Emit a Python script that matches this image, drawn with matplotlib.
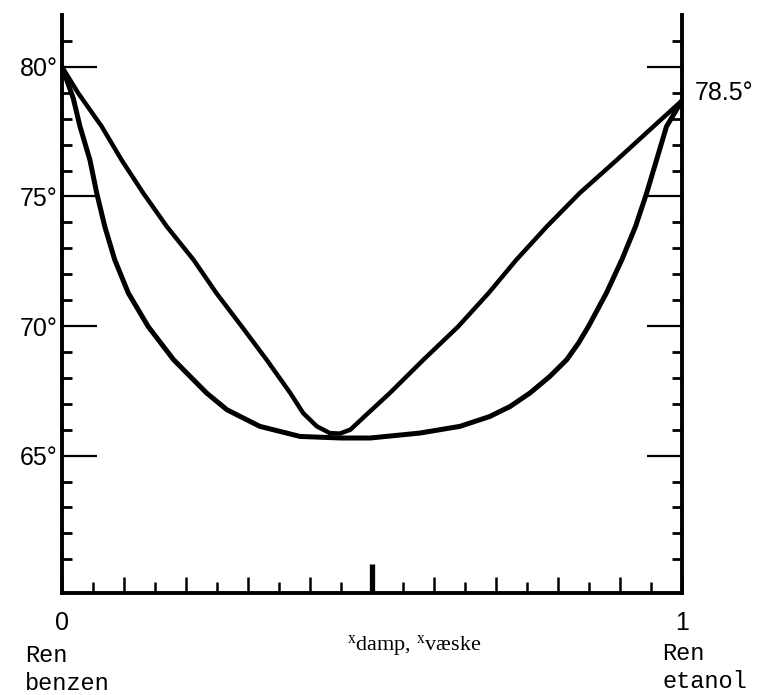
import matplotlib
matplotlib.use("Agg")
import matplotlib.pyplot as plt

# Liquid curve (kokepunktskurve)
x_liquid = [0.0, 0.018, 0.029, 0.045, 0.056, 0.069, 0.085, 0.107, 0.139, 0.180,
            0.233, 0.266, 0.319, 0.384, 0.45, 0.497, 0.577, 0.642, 0.690, 0.723,
            0.755, 0.787, 0.814, 0.833, 0.849, 0.878, 0.903, 0.925, 0.943, 0.959,
            0.975, 1.0]
t_liquid = [80.0, 78.8, 77.7, 76.41, 75.13, 73.84, 72.56, 71.27, 69.98, 68.70,
            67.42, 66.77, 66.13, 65.74, 65.68, 65.68, 65.87, 66.13, 66.51, 66.90,
            67.42, 68.06, 68.70, 69.34, 69.98, 71.27, 72.56, 73.84, 75.13, 76.41,
            77.70, 78.7]

# Vapour curve (duggpunktskurve)
x_vapor = [0.0, 0.026, 0.064, 0.096, 0.131, 0.169, 0.212, 0.249, 0.290, 0.330,
           0.368, 0.389, 0.411, 0.432, 0.448, 0.465, 0.491, 0.529, 0.583, 0.639,
           0.688, 0.733, 0.782, 0.835, 0.895, 0.954, 1.0]
t_vapor = [80.0, 78.99, 77.70, 76.41, 75.13, 73.84, 72.56, 71.27, 69.98, 68.70,
           67.42, 66.64, 66.13, 65.87, 65.85, 66.0, 66.58, 67.42, 68.70, 69.98,
           71.27, 72.56, 73.84, 75.13, 76.41, 77.70, 78.7]

y_major = [65, 70, 75, 80]
y_major_labels = ["65°", "70°", "75°", "80°"]
y_minor = [61, 62, 63, 64, 66, 67, 68, 69, 71, 72, 73, 74, 76, 77, 78, 79, 81]
x_major = [0.0, 0.1, 0.2, 0.3, 0.4, 0.5, 0.6, 0.7, 0.8, 0.9, 1.0]
x_major_labels = ["0", "", "", "", "", "", "", "", "", "", "1"]
x_minor = [0.05, 0.15, 0.25, 0.35, 0.45, 0.55, 0.65, 0.75, 0.85, 0.95]

plt.rcParams['font.family'] = ['Liberation Sans', 'DejaVu Sans']
plt.rcParams['mathtext.fontset'] = 'custom'
plt.rcParams['mathtext.rm'] = 'Liberation Serif'
plt.rcParams['mathtext.it'] = 'Liberation Serif'

fig = plt.figure(figsize=(7.57, 6.95), dpi=100)
ax = fig.add_axes([62 / 757, 102 / 695, 620 / 757, 578 / 695])

ax.plot(x_liquid, t_liquid, color='black', lw=3.6, solid_capstyle='round', solid_joinstyle='round')
ax.plot(x_vapor, t_vapor, color='black', lw=3.2, solid_capstyle='round', solid_joinstyle='round')

ax.set_xlim(0, 1)
ax.set_ylim(59.7, 82.0)

for s in ['left', 'right', 'bottom']:
    ax.spines[s].set_linewidth(2.8)
ax.spines['top'].set_visible(False)

ax.set_yticks(y_major)
ax.set_yticklabels(y_major_labels, fontsize=18)
ax.set_yticks(y_minor, minor=True)
ax.tick_params(axis='y', which='major', direction='in', left=True, right=True,
               length=25, width=1.6, pad=3)
ax.tick_params(axis='y', which='minor', direction='in', left=True, right=True,
               length=7, width=2.0)

ax.set_xticks(x_major)
ax.set_xticklabels(x_major_labels, fontsize=18)
ax.set_xticks(x_minor, minor=True)
ax.tick_params(axis='x', which='major', direction='in', length=11.5, width=1.8, pad=13)
ax.tick_params(axis='x', which='minor', direction='in', length=8, width=1.8)

# the tall middle tick at x = 0.5
sec = ax.secondary_xaxis('bottom')
sec.set_xticks([0.5])
sec.set_xticklabels([""])
sec.tick_params(direction='in', length=21, width=3.8)
sec.spines['bottom'].set_visible(False)

ax.text(1.021, 79.0, "78.5°", transform=ax.get_yaxis_transform(),
        fontsize=18, ha='left', va='center')

fig.text(414 / 757, 1 - 646 / 695, r"$^{\mathrm{x}}$damp, $^{\mathrm{x}}$væske",
         family='Liberation Serif', fontsize=16, ha='center', va='center')
fig.text(25 / 757, 1 - 644 / 695, "Ren\nbenzen", family='Liberation Mono',
         fontsize=17, ha='left', va='top', linespacing=1.25)
fig.text(662 / 757, 1 - 642 / 695, "Ren\netanol", family='Liberation Mono',
         fontsize=17, ha='left', va='top', linespacing=1.25)

fig.savefig("out.png", dpi=100)
